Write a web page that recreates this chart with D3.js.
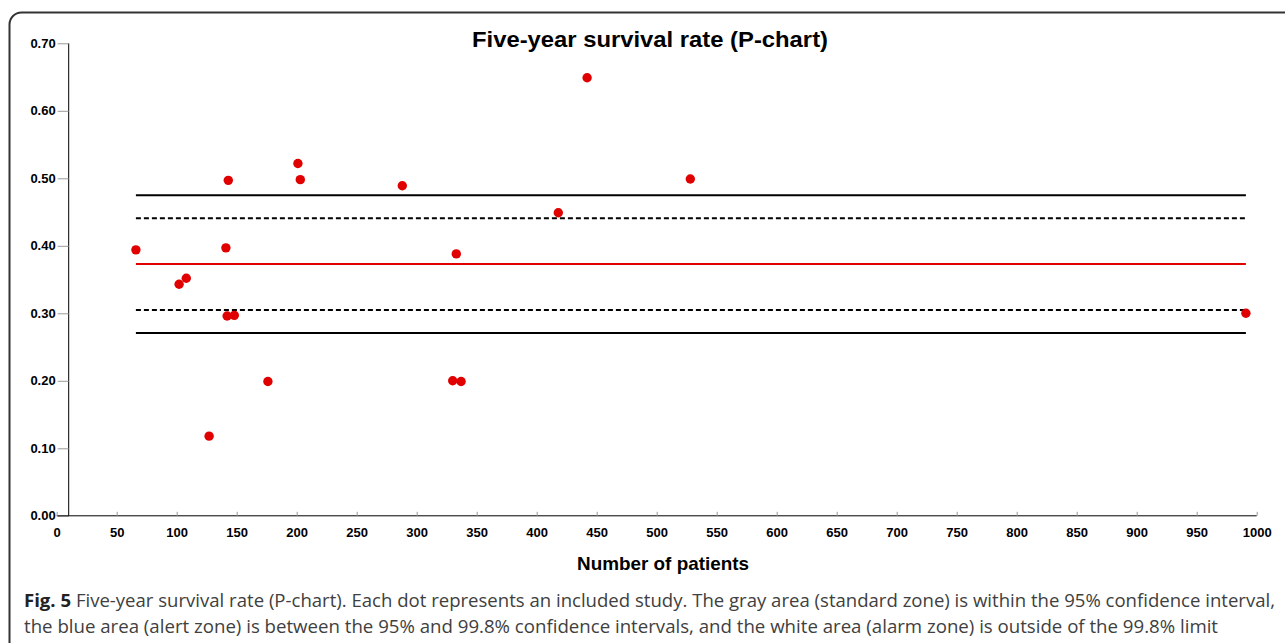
<!DOCTYPE html>
<html>
<head>
<meta charset="utf-8">
<script src="https://cdn.jsdelivr.net/npm/d3@7"></script>
<style>
  body { margin: 0; background: #fff; }
  svg { display: block; }
  .axis text { font-family: "Liberation Sans", Arial, sans-serif; font-weight: bold; fill: #000; }
  .axis path { stroke: #000; }
  .axis line { stroke: #999; }
</style>
</head>
<body>
<svg width="1285" height="643"></svg>
<script>
// Datos
const patients = [66, 102, 108, 127, 141, 142, 143, 148, 176, 201, 203, 288, 330, 333, 337, 418, 442, 528, 991];
const survival = [0.394, 0.343, 0.352, 0.118, 0.397, 0.296, 0.497, 0.297, 0.199, 0.522, 0.498, 0.489, 0.200, 0.388, 0.199, 0.449, 0.649, 0.499, 0.300];

// Límites de control (media, 95%, 99.8%)
const limitNames = ["ucl998", "ucl95", "center", "lcl95", "lcl998"];
const limitValues = [0.475, 0.441, 0.373, 0.305, 0.271];

const xTicks = d3.range(0, 1001, 50);
const yTicks = [0, 0.1, 0.2, 0.3, 0.4, 0.5, 0.6, 0.7];

const svg = d3.select("svg");

// Marco redondeado
svg.append("rect")
  .attr("x", 9.5).attr("y", 12.5)
  .attr("width", 1400).attr("height", 800)
  .attr("rx", 12).attr("ry", 12)
  .attr("fill", "none").attr("stroke", "#333").attr("stroke-width", 2);

const x = d3.scaleLinear().domain([0, 1000]).range([56.7, 1256.7]);
const y = d3.scaleLinear().domain([0, 0.7]).range([515.8, 43.3]);

// Eje Y (cruza en x≈10)
const yAxisX = x(10);
const yAxis = svg.append("g").attr("class", "axis")
  .attr("transform", `translate(${yAxisX},0)`)
  .call(d3.axisLeft(y).tickValues(yTicks).tickFormat(d3.format(".2f")).tickSize(11).tickSizeOuter(0));
yAxis.select(".domain").attr("d", `M0,${y(0.7)}V${y(0)}`);
yAxis.selectAll("text").attr("font-size", 13).attr("x", -13);

// Eje X
const xAxis = svg.append("g").attr("class", "axis")
  .attr("transform", `translate(0,${y(0)})`)
  .call(d3.axisBottom(x).tickValues(xTicks).tickFormat(d3.format("d")).tickSize(4).tickSizeOuter(0));
xAxis.select(".domain").attr("d", `M${x(0)},0H${x(1000)}`);
xAxis.selectAll(".tick line").attr("y1", -4).attr("y2", 0);
xAxis.selectAll("text").attr("font-size", 13).attr("y", 12);

// Líneas de control
const nMin = d3.min(patients), nMax = d3.max(patients);
svg.selectAll("line.limit").data(limitValues).enter().append("line")
  .attr("class", "limit")
  .attr("x1", x(nMin)).attr("x2", x(nMax))
  .attr("y1", d => y(d)).attr("y2", d => y(d))
  .attr("stroke", (d, i) => limitNames[i] === "center" ? "#e00000" : "#000")
  .attr("stroke-width", 2)
  .attr("stroke-dasharray", (d, i) => limitNames[i].includes("95") ? "5,3" : null);

// Puntos
svg.selectAll("circle.dot").data(patients).enter().append("circle")
  .attr("class", "dot")
  .attr("cx", d => x(d))
  .attr("cy", (d, i) => y(survival[i]))
  .attr("r", 4.7)
  .attr("fill", "#e00000");

// Título
svg.append("text")
  .attr("x", 650).attr("y", 47)
  .attr("text-anchor", "middle")
  .attr("font-family", "Liberation Sans, Arial, sans-serif")
  .attr("font-weight", "bold").attr("font-size", 22)
  .attr("textLength", 356).attr("lengthAdjust", "spacingAndGlyphs")
  .text("Five-year survival rate (P-chart)");

// Título eje X
svg.append("text")
  .attr("x", 663).attr("y", 570)
  .attr("text-anchor", "middle")
  .attr("font-family", "Liberation Sans, Arial, sans-serif")
  .attr("font-weight", "bold").attr("font-size", 19)
  .attr("textLength", 172).attr("lengthAdjust", "spacingAndGlyphs")
  .text("Number of patients");

// Pie de figura
const caption = svg.append("g")
  .attr("font-family", "Open Sans, sans-serif")
  .attr("font-size", 18.5).attr("fill", "#404040");
const l1 = caption.append("text").attr("x", 24).attr("y", 607)
  .attr("textLength", 1251).attr("lengthAdjust", "spacingAndGlyphs");
l1.append("tspan").attr("font-weight", "bold").attr("fill", "#222").text("Fig. 5");
l1.append("tspan").text(" Five-year survival rate (P-chart). Each dot represents an included study. The gray area (standard zone) is within the 95% confidence interval,");
caption.append("text").attr("x", 24).attr("y", 633)
  .attr("textLength", 1194).attr("lengthAdjust", "spacingAndGlyphs")
  .text("the blue area (alert zone) is between the 95% and 99.8% confidence intervals, and the white area (alarm zone) is outside of the 99.8% limit");
</script>
</body>
</html>
